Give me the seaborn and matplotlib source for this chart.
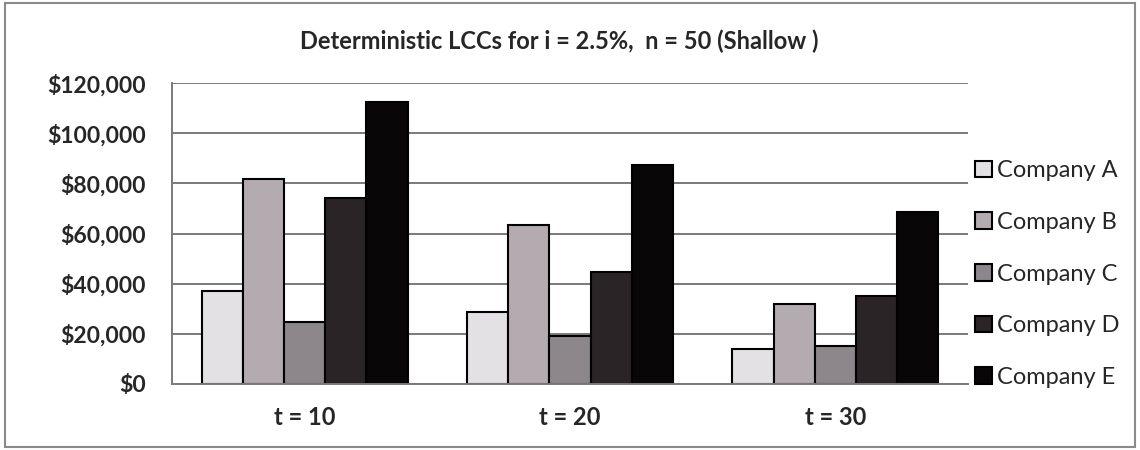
import numpy as np
import pandas as pd
import matplotlib
matplotlib.use("Agg")
import matplotlib.pyplot as plt
import seaborn as sns
from matplotlib.patches import Rectangle
from matplotlib.ticker import FuncFormatter

periods = ["t = 10", "t = 20", "t = 30"]
companies = ["Company A", "Company B", "Company C", "Company D", "Company E"]
company_a = [37000, 28500, 14000]
company_b = [81700, 63500, 32000]
company_c = [24500, 19000, 15000]
company_d = [74000, 44500, 35000]
company_e = [112500, 87300, 68500]
bar_colors = ["#e4e1e4", "#b3abb0", "#8d868a", "#2a2426", "#080606"]

rows = []
for name, vals in zip(companies, [company_a, company_b, company_c, company_d, company_e]):
    for p, v in zip(periods, vals):
        rows.append({"period": p, "company": name, "cost": v})
df = pd.DataFrame(rows)

sns.set_style("white")
plt.rcParams["font.family"] = ["Lato", "DejaVu Sans"]

fig = plt.figure(figsize=(11.4, 4.5), dpi=100)
ax = fig.add_axes([0.151, 0.147, 0.698, 0.668])

sns.barplot(data=df, x="period", y="cost", hue="company", order=periods,
            hue_order=companies, palette=bar_colors, width=0.775, gap=0,
            edgecolor="black", linewidth=1.5, saturation=1, ax=ax)

grey = "#7a7a7a"
ax.set_ylim(0, 120000)
ax.set_yticks(np.arange(0, 120001, 20000))
ax.yaxis.set_major_formatter(FuncFormatter(lambda v, _: f"${v:,.0f}"))
ax.yaxis.grid(True, color=grey, linewidth=1.4)
ax.set_axisbelow(True)
ax.set_xlabel("")
ax.set_ylabel("")
ax.tick_params(axis="y", length=5, width=1.4, color=grey, labelsize=16.5, pad=14)
ax.tick_params(axis="x", length=0, labelsize=17, pad=16)
for lab in ax.get_xticklabels() + ax.get_yticklabels():
    lab.set_fontweight("bold")
for s in ["top", "right"]:
    ax.spines[s].set_visible(False)
for s in ["left", "bottom"]:
    ax.spines[s].set_color(grey)
    ax.spines[s].set_linewidth(1.4)

ax.legend(loc="center left", bbox_to_anchor=(1.0, 0.365), frameon=False,
          fontsize=17, handlelength=0.72, handleheight=0.72, handletextpad=0.2,
          labelspacing=1.3, borderaxespad=0, borderpad=0.3)

fig.text(0.491, 0.909, "Deterministic LCCs for i = 2.5%,  n = 50 (Shallow )",
         ha="center", va="center", fontsize=17, fontweight="bold")

fig.patches.append(Rectangle((0.004, 0.007), 0.992, 0.986, transform=fig.transFigure,
                             fill=False, edgecolor="#8a8a8a", linewidth=1.5))

fig.savefig("out.png", dpi=100, facecolor="white")
